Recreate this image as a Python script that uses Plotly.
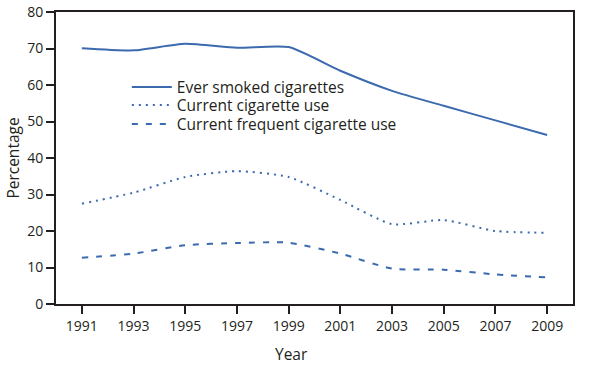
import plotly.graph_objects as go

years = [1991, 1993, 1995, 1997, 1999, 2001, 2003, 2005, 2007, 2009]
ever_smoked = [70.1, 69.5, 71.3, 70.2, 70.4, 63.9, 58.4, 54.3, 50.3, 46.3]
current_use = [27.5, 30.5, 34.8, 36.4, 34.8, 28.5, 21.9, 23.0, 20.0, 19.5]
current_frequent = [12.7, 13.8, 16.1, 16.7, 16.8, 13.8, 9.7, 9.4, 8.1, 7.3]
x_ticks = [1991, 1993, 1995, 1997, 1999, 2001, 2003, 2005, 2007, 2009]
y_ticks = [0, 10, 20, 30, 40, 50, 60, 70, 80]

color = "#3b6aae"
axis_color = "#231f20"
font_family = "Open Sans, Lato, sans-serif"

fig = go.Figure()
fig.add_trace(go.Scatter(x=years, y=ever_smoked, mode="lines", name="Ever smoked cigarettes",
                         legend="legend",
                         line=dict(color=color, width=2, shape="spline", smoothing=0.6)))
fig.add_trace(go.Scatter(x=years, y=current_use, mode="lines", name="Current cigarette use",
                         legend="legend2",
                         line=dict(color=color, width=2, dash="2px,5px", shape="spline", smoothing=0.6)))
fig.add_trace(go.Scatter(x=years, y=current_frequent, mode="lines", name="Current frequent cigarette use",
                         legend="legend3",
                         line=dict(color=color, width=2, dash="6px,8px", shape="spline", smoothing=0.6)))

leg_common = dict(x=0.137, xanchor="left", yanchor="top", bgcolor="rgba(0,0,0,0)",
                  font=dict(size=15.5, color=axis_color), itemwidth=40)

fig.update_layout(
    width=601, height=368,
    margin=dict(l=56, r=28, t=12, b=64, autoexpand=False),
    paper_bgcolor="white", plot_bgcolor="white",
    font=dict(family=font_family, size=14, color=axis_color),
    showlegend=True,
    legend=dict(y=0.800, **leg_common),
    legend2=dict(y=0.738, **leg_common),
    legend3=dict(y=0.673, **leg_common),
    xaxis=dict(range=[1990, 2010], tickvals=x_ticks, ticktext=[str(v) for v in x_ticks],
               showgrid=False, zeroline=False, showline=True, linecolor=axis_color, linewidth=2,
               mirror=True, ticks="outside", ticklen=8, tickwidth=2, tickcolor=axis_color,
               tickfont=dict(size=14), automargin=False),
    yaxis=dict(range=[0, 80], tickvals=y_ticks, showgrid=False, zeroline=False,
               showline=True, linecolor=axis_color, linewidth=2, mirror=True,
               ticks="outside", ticklen=8, tickwidth=2, tickcolor=axis_color,
               tickfont=dict(size=14), automargin=False,
               title=dict(text="Percentage", font=dict(size=15.5), standoff=4)),
    annotations=[dict(text="Year", x=0.455, y=-0.125, xref="paper", yref="paper",
                      xanchor="center", yanchor="top", showarrow=False, font=dict(size=15.5))],
)

fig.write_html("out.html", config={"displayModeBar": False},
               post_script="document.body.style.margin='0';document.body.style.padding='0';")
